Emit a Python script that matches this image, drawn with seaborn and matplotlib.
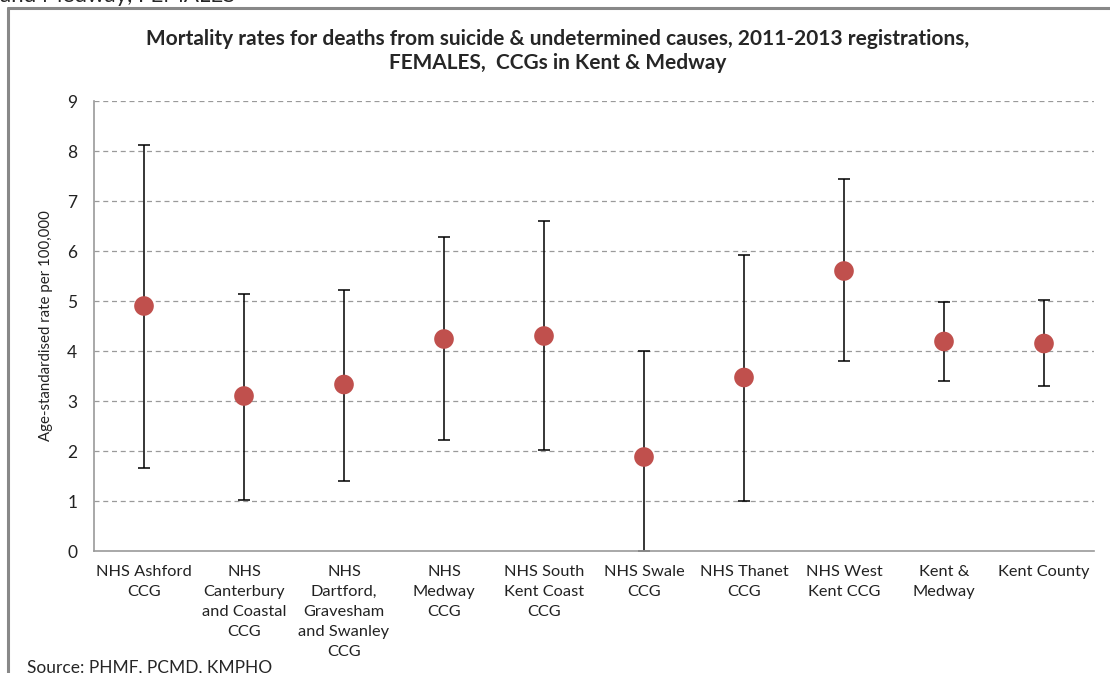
import matplotlib
matplotlib.use("Agg")
import matplotlib.pyplot as plt
import seaborn as sns
import numpy as np
from matplotlib.lines import Line2D

categories = [
    "NHS Ashford\nCCG",
    "NHS\nCanterbury\nand Coastal\nCCG",
    "NHS\nDartford,\nGravesham\nand Swanley\nCCG",
    "NHS\nMedway\nCCG",
    "NHS South\nKent Coast\nCCG",
    "NHS Swale\nCCG",
    "NHS Thanet\nCCG",
    "NHS West\nKent CCG",
    "Kent &\nMedway",
    "Kent County",
]
rates = [4.90, 3.10, 3.33, 4.24, 4.30, 1.88, 3.47, 5.60, 4.19, 4.15]
lower_ci = [1.67, 1.03, 1.41, 2.22, 2.02, 0.00, 1.01, 3.80, 3.40, 3.31]
upper_ci = [8.12, 5.14, 5.22, 6.28, 6.60, 4.01, 5.92, 7.44, 4.99, 5.03]
y_ticks = [0, 1, 2, 3, 4, 5, 6, 7, 8, 9]

sns.set_style("white")
plt.rcParams["font.family"] = ["Lato", "DejaVu Sans"]

W, H = 1110, 673
fig = plt.figure(figsize=(W / 100, H / 100), dpi=100)
ax = fig.add_axes([94 / W, 1 - 551 / H, 1000 / W, 450 / H])

pos = np.arange(len(categories))
rates_a = np.array(rates)
yerr = np.vstack([rates_a - np.array(lower_ci), np.array(upper_ci) - rates_a])

ax.errorbar(pos, rates_a, yerr=yerr, fmt="none", ecolor="black",
            elinewidth=1.1, capsize=4, capthick=1.1, zorder=2)
sns.scatterplot(x=pos, y=rates_a, ax=ax, color="#C0504D", s=200,
                edgecolor="none", zorder=3)

ax.set_xlim(-0.5, len(categories) - 0.5)
ax.set_ylim(0, 9)
ax.set_yticks(y_ticks)
ax.set_yticklabels([str(t) for t in y_ticks], fontsize=12.5, color="#222222")
for t in y_ticks[1:]:
    ax.axhline(t, color="#9a9a9a", lw=0.9, ls=(0, (4, 3)), zorder=1)

ax.set_xticks(pos)
ax.set_xticklabels(categories, fontsize=11.8, color="#222222", linespacing=1.55)
ax.set_xticks(np.arange(-0.5, len(categories), 1.0), minor=True)
ax.tick_params(axis="x", which="major", length=0, pad=10)
ax.tick_params(axis="x", which="minor", length=6, color="#999999", width=1)
ax.tick_params(axis="y", which="major", length=5, color="#999999", width=1, pad=7)

for s in ["top", "right"]:
    ax.spines[s].set_visible(False)
for s in ["left", "bottom"]:
    ax.spines[s].set_color("#999999")
    ax.spines[s].set_linewidth(1.2)

ax.set_ylabel("Age-standardised rate per 100,000", fontsize=10.8, color="#222222", labelpad=10)

fig.text(558 / W, 1 - 51 / H,
         "Mortality rates for deaths from suicide & undetermined causes, 2011-2013 registrations,\nFEMALES,  CCGs in Kent & Medway",
         ha="center", va="center", fontsize=15, fontweight="bold", linespacing=1.3)

# chart frame
fig.add_artist(Line2D([8 / W, 8 / W], [0, 1 - 8 / H], color="#888888", lw=2.2))
fig.add_artist(Line2D([8 / W, 1], [1 - 8 / H, 1 - 8 / H], color="#888888", lw=2.2))

fig.text(0 / W, 1 - 2 / H, "and Medway, FEMALES", ha="left", va="baseline", fontsize=16)
fig.text(27 / W, 1 - 660 / H, "Source: PHMF, PCMD, KMPHO", ha="left", va="top", fontsize=12.5)

fig.savefig("out.png", dpi=100)
